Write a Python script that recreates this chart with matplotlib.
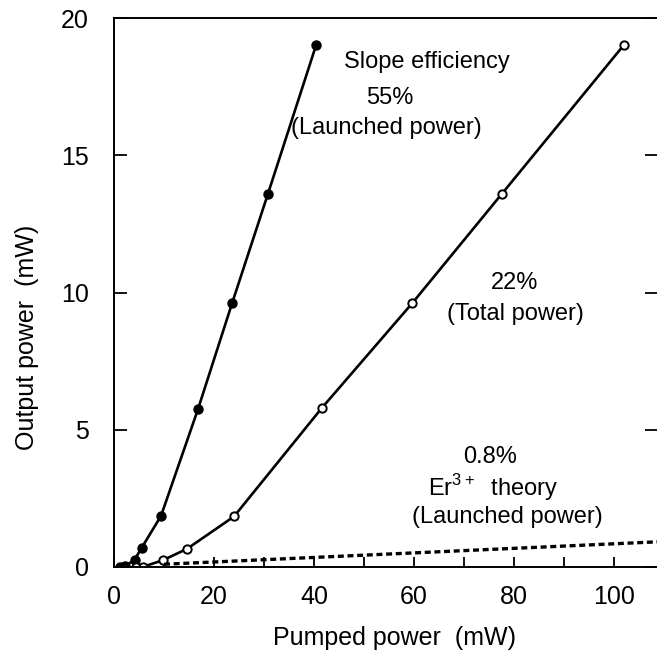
import matplotlib
matplotlib.use("Agg")
import matplotlib.pyplot as plt
from matplotlib.ticker import MultipleLocator

plt.rcParams['font.family'] = ['Liberation Sans', 'DejaVu Sans']
plt.rcParams['mathtext.fontset'] = 'custom'
plt.rcParams['mathtext.rm'] = 'Liberation Sans'

# launched power (filled circles)
launched_x = [1.2, 2.2, 4.1, 5.5, 9.4, 16.8, 23.6, 30.8, 40.4]
launched_y = [0.0, 0.03, 0.26, 0.69, 1.86, 5.75, 9.6, 13.6, 19.0]

# total power (open circles)
total_x = [4.4, 5.7, 9.8, 14.6, 24.0, 41.6, 59.6, 77.6, 101.9]
total_y = [0.0, 0.0, 0.25, 0.66, 1.84, 5.8, 9.6, 13.6, 19.0]

# Er3+ theory (dashed)
theory_x = [10, 109]
theory_y = [0.1, 0.92]

fig = plt.figure(figsize=(6.57, 6.53), dpi=100)
ax = fig.add_axes([114 / 657, 86 / 653, 1 - 114 / 657, 549 / 653])

ax.plot(launched_x, launched_y, color='black', lw=1.9, marker='o',
        ms=6.5, mfc='black', mec='black')
ax.plot(total_x, total_y, color='black', lw=1.9, marker='o',
        ms=6, mfc='white', mec='black', mew=1.4)
ax.plot(theory_x, theory_y, color='black', lw=2.4, ls=(0, (1.8, 1.1)))

ax.set_xlim(0, 108.6)
ax.set_ylim(0, 20)
ax.xaxis.set_major_locator(MultipleLocator(20))
ax.xaxis.set_minor_locator(MultipleLocator(10))
ax.set_yticks([0, 5, 10, 15, 20])

ax.spines['right'].set_visible(False)
for s in ['left', 'top', 'bottom']:
    ax.spines[s].set_linewidth(1.4)

ax.tick_params(axis='x', which='both', direction='in', length=7, width=1.3,
               pad=13, labelsize=18)
ax.tick_params(axis='y', direction='in', length=9, width=1.3, pad=18,
               labelsize=18, right=True, labelright=False)

ax.set_xlabel('Pumped power  (mW)', fontsize=18)
ax.xaxis.set_label_coords(0.516, -0.108)
ax.set_ylabel('Output power  (mW)', fontsize=18)
ax.yaxis.set_label_coords(-0.138, 0.419)

fs = 17
ax.text(62.6, 18.4, 'Slope efficiency', ha='center', va='center', fontsize=fs)
ax.text(55.2, 17.1, '55%', ha='center', va='center', fontsize=fs)
ax.text(54.4, 16.0, '(Launched power)', ha='center', va='center', fontsize=fs)
ax.text(80.2, 10.35, '22%', ha='center', va='center', fontsize=fs)
ax.text(80.2, 9.2, '(Total power)', ha='center', va='center', fontsize=fs)
ax.text(75.2, 4.0, '0.8%', ha='center', va='center', fontsize=fs)
ax.text(75.8, 2.88, 'Er$^{3+}$  theory', ha='center', va='center', fontsize=fs)
ax.text(78.6, 1.82, '(Launched power)', ha='center', va='center', fontsize=fs)

fig.savefig('out.png', dpi=100)
plt.close(fig)
